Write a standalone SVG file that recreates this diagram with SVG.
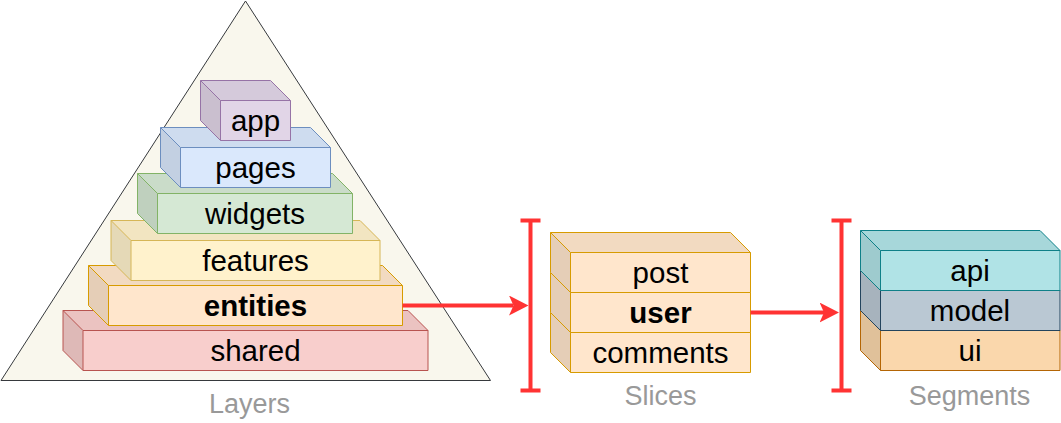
<svg xmlns="http://www.w3.org/2000/svg" width="1061" height="423" viewBox="0 0 1061 423">
<style>
.face{stroke:none}
.top{fill:#000;fill-opacity:.05;stroke:none}
.side{fill:#000;fill-opacity:.1;stroke:none}
.edge{fill:none;stroke-width:1}
.lbl{font-family:"Liberation Sans",Arial,sans-serif;font-size:29.5px;fill:#000;stroke:none;text-anchor:middle}
.b{font-weight:bold}
.cap{font-family:"Liberation Sans",Arial,sans-serif;font-size:27px;fill:#999999;stroke:none;text-anchor:middle}
.red{stroke:#FF3333;stroke-width:4;fill:none}
.purple{fill:#e1d5e7;stroke:#9673a6}
.blue{fill:#dae8fc;stroke:#6c8ebf}
.green{fill:#d5e8d4;stroke:#82b366}
.yellow{fill:#fff2cc;stroke:#d6b656}
.orange{fill:#ffe6cc;stroke:#d79b00}
.redc{fill:#f8cecc;stroke:#b85450}
.teal{fill:#b0e3e6;stroke:#0e8088}
.slate{fill:#bac8d3;stroke:#23445d}
.sand{fill:#fad7ac;stroke:#b46504}
</style>
<defs>
<marker id="arrow" markerUnits="userSpaceOnUse" markerWidth="20" markerHeight="20" viewBox="0 0 20 20" refX="4.5" refY="10" orient="auto">
<path d="M0,0 L19.5,10 L0,20 L4.5,10 Z" fill="#FF3333"/>
</marker>
</defs>

<g id="layers-pyramid">
<polygon points="245.5,1 490.5,380.5 1,380.5" fill="#f9f7ed" stroke="#36393d" stroke-width="1"/>
</g>

<g id="shared" class="redc">
<path class="face" d="M63,310.5 H408 L428,330.5 V370.5 H83 L63,350.5 Z"/>
<path class="top" d="M63,310.5 H408 L428,330.5 H83 Z"/>
<path class="side" d="M63,310.5 L83,330.5 V370.5 L63,350.5 Z"/>
<path class="edge" d="M63,310.5 H408 L428,330.5 V370.5 H83 L63,350.5 Z M83,370.5 V330.5 L63,310.5 M83,330.5 H428"/>
<text class="lbl" x="255.5" y="360.5">shared</text>
</g>

<g id="entities" class="orange">
<path class="face" d="M88.5,265.5 H382.5 L402.5,285.5 V325.5 H108.5 L88.5,305.5 Z"/>
<path class="top" d="M88.5,265.5 H382.5 L402.5,285.5 H108.5 Z"/>
<path class="side" d="M88.5,265.5 L108.5,285.5 V325.5 L88.5,305.5 Z"/>
<path class="edge" d="M88.5,265.5 H382.5 L402.5,285.5 V325.5 H108.5 L88.5,305.5 Z M108.5,325.5 V285.5 L88.5,265.5 M108.5,285.5 H402.5"/>
<text class="lbl b" x="255.5" y="315.5">entities</text>
</g>

<g id="features" class="yellow">
<path class="face" d="M111,220.5 H360 L380,240.5 V280.5 H131 L111,260.5 Z"/>
<path class="top" d="M111,220.5 H360 L380,240.5 H131 Z"/>
<path class="side" d="M111,220.5 L131,240.5 V280.5 L111,260.5 Z"/>
<path class="edge" d="M111,220.5 H360 L380,240.5 V280.5 H131 L111,260.5 Z M131,280.5 V240.5 L111,220.5 M131,240.5 H380"/>
<text class="lbl" x="255.5" y="270.5">features</text>
</g>

<g id="widgets" class="green">
<path class="face" d="M137.5,173.5 H332.5 L352.5,193.5 V233.5 H157.5 L137.5,213.5 Z"/>
<path class="top" d="M137.5,173.5 H332.5 L352.5,193.5 H157.5 Z"/>
<path class="side" d="M137.5,173.5 L157.5,193.5 V233.5 L137.5,213.5 Z"/>
<path class="edge" d="M137.5,173.5 H332.5 L352.5,193.5 V233.5 H157.5 L137.5,213.5 Z M157.5,233.5 V193.5 L137.5,173.5 M157.5,193.5 H352.5"/>
<text class="lbl" x="255" y="223.5">widgets</text>
</g>

<g id="pages" class="blue">
<path class="face" d="M160.5,127.5 H310.5 L330.5,147.5 V187.5 H180.5 L160.5,167.5 Z"/>
<path class="top" d="M160.5,127.5 H310.5 L330.5,147.5 H180.5 Z"/>
<path class="side" d="M160.5,127.5 L180.5,147.5 V187.5 L160.5,167.5 Z"/>
<path class="edge" d="M160.5,127.5 H310.5 L330.5,147.5 V187.5 H180.5 L160.5,167.5 Z M180.5,187.5 V147.5 L160.5,127.5 M180.5,147.5 H330.5"/>
<text class="lbl" x="255.5" y="177.5">pages</text>
</g>

<g id="app" class="purple">
<path class="face" d="M200.5,80.5 H270.5 L290.5,100.5 V140.5 H220.5 L200.5,120.5 Z"/>
<path class="top" d="M200.5,80.5 H270.5 L290.5,100.5 H220.5 Z"/>
<path class="side" d="M200.5,80.5 L220.5,100.5 V140.5 L200.5,120.5 Z"/>
<path class="edge" d="M200.5,80.5 H270.5 L290.5,100.5 V140.5 H220.5 L200.5,120.5 Z M220.5,140.5 V100.5 L200.5,80.5 M220.5,100.5 H290.5"/>
<text class="lbl" x="255.5" y="130.5">app</text>
</g>

<g id="layers-caption">
<text class="cap" x="249.5" y="413">Layers</text>
</g>

<g id="slices-bracket">
<path class="red" d="M530.5,220.5 V390.5 M520.5,220.5 H540.5 M520.5,390.5 H540.5"/>
</g>

<g id="comments" class="orange">
<path class="face" d="M550.5,312.5 H730.5 L750.5,332.5 V372.5 H570.5 L550.5,352.5 Z"/>
<path class="top" d="M550.5,312.5 H730.5 L750.5,332.5 H570.5 Z"/>
<path class="side" d="M550.5,312.5 L570.5,332.5 V372.5 L550.5,352.5 Z"/>
<path class="edge" d="M550.5,312.5 H730.5 L750.5,332.5 V372.5 H570.5 L550.5,352.5 Z M570.5,372.5 V332.5 L550.5,312.5 M570.5,332.5 H750.5"/>
<text class="lbl" x="660.5" y="362.5">comments</text>
</g>

<g id="user" class="orange">
<path class="face" d="M550.5,272.5 H730.5 L750.5,292.5 V332.5 H570.5 L550.5,312.5 Z"/>
<path class="top" d="M550.5,272.5 H730.5 L750.5,292.5 H570.5 Z"/>
<path class="side" d="M550.5,272.5 L570.5,292.5 V332.5 L550.5,312.5 Z"/>
<path class="edge" d="M550.5,272.5 H730.5 L750.5,292.5 V332.5 H570.5 L550.5,312.5 Z M570.5,332.5 V292.5 L550.5,272.5 M570.5,292.5 H750.5"/>
<text class="lbl b" x="660.5" y="322.5">user</text>
</g>

<g id="post" class="orange">
<path class="face" d="M550.5,232.5 H730.5 L750.5,252.5 V292.5 H570.5 L550.5,272.5 Z"/>
<path class="top" d="M550.5,232.5 H730.5 L750.5,252.5 H570.5 Z"/>
<path class="side" d="M550.5,232.5 L570.5,252.5 V292.5 L550.5,272.5 Z"/>
<path class="edge" d="M550.5,232.5 H730.5 L750.5,252.5 V292.5 H570.5 L550.5,272.5 Z M570.5,292.5 V252.5 L550.5,232.5 M570.5,252.5 H750.5"/>
<text class="lbl" x="660.5" y="282.5">post</text>
</g>

<g id="slices-caption">
<text class="cap" x="660.5" y="405">Slices</text>
</g>

<g id="segments-bracket">
<path class="red" d="M841.5,220.5 V390.5 M831.5,220.5 H851.5 M831.5,390.5 H851.5"/>
</g>

<g id="ui" class="sand">
<path class="face" d="M860.5,310.5 H1040 L1060,330.5 V370.5 H880.5 L860.5,350.5 Z"/>
<path class="top" d="M860.5,310.5 H1040 L1060,330.5 H880.5 Z"/>
<path class="side" d="M860.5,310.5 L880.5,330.5 V370.5 L860.5,350.5 Z"/>
<path class="edge" d="M860.5,310.5 H1040 L1060,330.5 V370.5 H880.5 L860.5,350.5 Z M880.5,370.5 V330.5 L860.5,310.5 M880.5,330.5 H1060"/>
<text class="lbl" x="970" y="360.5">ui</text>
</g>

<g id="model" class="slate">
<path class="face" d="M860.5,270.5 H1040 L1060,290.5 V330.5 H880.5 L860.5,310.5 Z"/>
<path class="top" d="M860.5,270.5 H1040 L1060,290.5 H880.5 Z"/>
<path class="side" d="M860.5,270.5 L880.5,290.5 V330.5 L860.5,310.5 Z"/>
<path class="edge" d="M860.5,270.5 H1040 L1060,290.5 V330.5 H880.5 L860.5,310.5 Z M880.5,330.5 V290.5 L860.5,270.5 M880.5,290.5 H1060"/>
<text class="lbl" x="970" y="320.5">model</text>
</g>

<g id="api" class="teal">
<path class="face" d="M860.5,230.5 H1040 L1060,250.5 V290.5 H880.5 L860.5,270.5 Z"/>
<path class="top" d="M860.5,230.5 H1040 L1060,250.5 H880.5 Z"/>
<path class="side" d="M860.5,230.5 L880.5,250.5 V290.5 L860.5,270.5 Z"/>
<path class="edge" d="M860.5,230.5 H1040 L1060,250.5 V290.5 H880.5 L860.5,270.5 Z M880.5,290.5 V250.5 L860.5,230.5 M880.5,250.5 H1060"/>
<text class="lbl" x="970" y="280.5">api</text>
</g>

<g id="segments-caption">
<text class="cap" x="969.5" y="405">Segments</text>
</g>

<g id="connectors">
<path class="red" d="M402.5,305.5 H513.5" marker-end="url(#arrow)"/>
<path class="red" d="M750.5,312.5 H824" marker-end="url(#arrow)"/>
</g>
</svg>
